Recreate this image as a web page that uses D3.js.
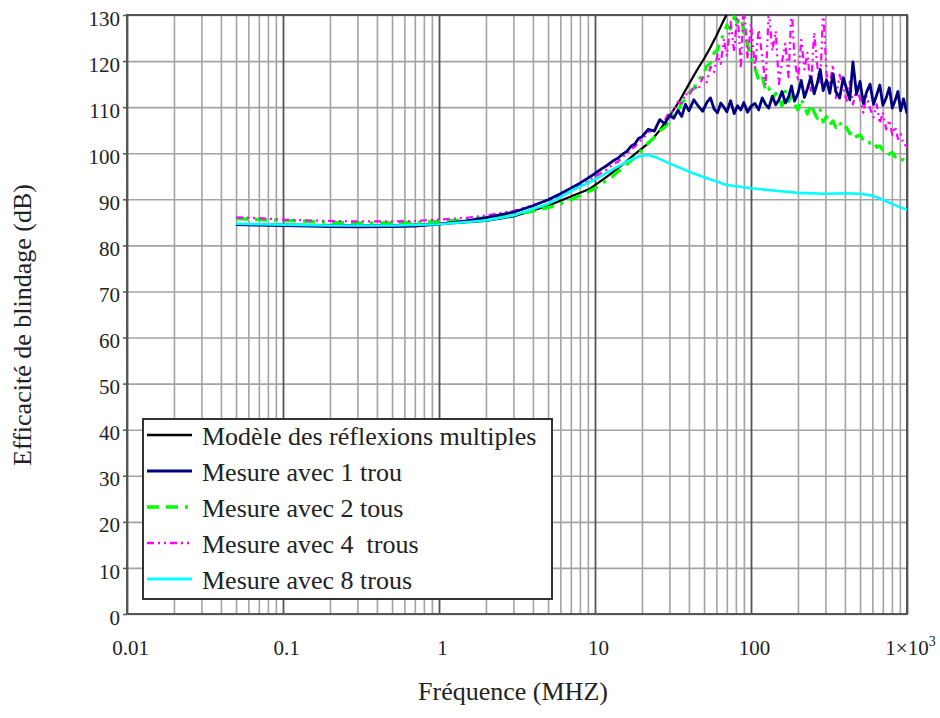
<!DOCTYPE html>
<html>
<head>
<meta charset="utf-8">
<script src="https://cdn.jsdelivr.net/npm/d3@7"></script>
<style>
  body { margin: 0; background: #fff; }
  svg text { font-family: "Liberation Serif", "DejaVu Serif", serif !important; fill: #222; }
</style>
</head>
<body>
<div class="canvas"></div>
<script>
// data (frequency in MHz, SE in dB)
const seriesNames = ['Modèle des réflexions multiples', 'Mesure avec 1 trou', 'Mesure avec 2 tous', 'Mesure avec 4  trous', 'Mesure avec 8 trous']
const xTicks = [0.01, 0.1, 1, 10, 100, 1000]
const yTicks = [0, 10, 20, 30, 40, 50, 60, 70, 80, 90, 100, 110, 120, 130]

const modelFreq = [0.05, 0.1, 0.2, 0.5, 1, 2, 3, 5, 7, 9.3, 12, 15, 18, 22.5, 26, 30, 35, 40, 45, 50, 55, 60, 65, 70, 75]
const modelSE = [84.6, 84.5, 84.4, 84.4, 84.6, 85.3, 86.3, 88.6, 90.6, 92.3, 95.0, 97.5, 99.8, 102.4, 105, 108, 111.5, 115, 118, 120.5, 123, 125.5, 128, 130.2, 132.5]

const measFreq = [
  0.05, 0.07, 0.1, 0.15, 0.2, 0.3, 0.5, 0.7, 1, 1.5, 2, 3, 4, 5, 6, 7, 8, 9, 10,
  11, 12, 13, 14, 15, 16, 17, 18, 19, 20, 22, 24, 26, 28, 30,
  32, 34, 36, 38, 40, 43, 46, 49, 52, 55, 58, 61, 64, 67, 70, 74, 78, 82, 86, 90, 95, 100,
  106, 112, 118, 124, 130, 137, 144, 151, 158, 166, 174, 182, 190, 200, 210, 220, 230, 242, 254, 266, 278, 290, 305, 320,
  335, 350, 370, 390, 410, 430, 450, 475, 500, 525, 550, 580, 610, 640, 670, 700, 735, 770, 805, 840, 875, 910, 950, 1000
]
const trou1 = [
  84.5, 84.4, 84.3, 84.2, 84.1, 84.0, 84.1, 84.2, 84.6, 85.3, 86.0, 87.2, 88.6, 89.9, 91.2, 92.4, 93.5, 94.6, 95.6,
  96.6, 97.4, 98.3, 98.9, 99.8, 100.4, 101.5, 102.0, 103.2, 103.6, 105.2, 104.8, 107.3, 106.4, 108.2,
  107.6, 109.3, 108.0, 110.6, 109.2, 111.6, 110.2, 109.1, 111.0, 112.0, 109.6, 108.8, 110.9, 110.0, 109.0, 111.4, 108.6, 110.3, 109.4, 111.0, 108.9, 110.2,
  110.8, 109.4, 112.0, 110.6, 109.8, 112.4, 110.5, 111.6, 113.4, 110.9, 112.2, 114.6, 111.3, 113.0, 115.8, 112.1, 114.0, 116.6, 112.9, 115.2, 118.2, 113.6, 115.9, 113.0,
  117.2, 113.4, 112.0, 116.4, 114.0, 111.6, 119.8, 112.8, 115.6, 110.8, 113.2, 115.0, 110.6, 112.7, 114.8, 110.4, 112.0, 114.2, 109.8, 111.5, 113.4, 109.2, 111.8, 108.6
]
const trous2 = [
  85.8, 85.6, 85.4, 85.2, 85.0, 84.9, 84.9, 85.0, 85.2, 85.6, 86.0, 86.7, 87.4, 88.2, 89.0, 89.9, 90.8, 91.6, 92.4,
  93.3, 94.3, 95.0, 96.0, 96.7, 97.6, 98.4, 99.0, 100.0, 100.7, 102.3, 103.4, 104.9, 105.6, 107.0,
  108.5, 109.2, 111.0, 111.6, 113.2, 114.0, 116.1, 116.8, 118.9, 119.6, 121.8, 122.4, 124.9, 125.6, 127.8, 127.0, 129.6, 128.4, 130.5, 126.0, 123.5, 120.8,
  118.4, 115.9, 116.8, 113.5, 114.2, 111.6, 113.0, 112.3, 110.2, 113.4, 111.2, 112.5, 110.6, 109.4, 111.8, 110.0, 108.5, 110.6, 108.9, 107.6, 109.4, 106.8, 108.0, 106.2,
  107.0, 105.6, 106.8, 105.1, 105.6, 104.2, 104.9, 103.6, 104.0, 102.8, 103.1, 102.2, 102.6, 101.3, 101.6, 100.7, 100.9, 99.8, 100.2, 99.2, 99.4, 98.5, 98.6, 97.8
]
const trous4 = [
  86.1, 85.9, 85.6, 85.4, 85.3, 85.2, 85.2, 85.3, 85.6, 86.0, 86.5, 87.5, 88.7, 89.7, 90.9, 92.0, 93.0, 93.9, 94.8,
  95.8, 96.5, 97.6, 98.1, 99.2, 99.8, 100.9, 101.4, 102.5, 102.9, 104.6, 105.0, 107.0, 107.2, 109.0,
  109.0, 111.2, 110.8, 113.0, 112.4, 114.6, 113.8, 116.5, 115.4, 118.8, 117.6, 121.5, 119.4, 124.8, 121.2, 128.5, 122.0, 131.5, 118.4, 133.0, 120.5, 128.0,
  118.5, 126.8, 121.0, 114.8, 131.0, 122.2, 126.5, 115.0, 119.8, 123.8, 116.5, 132.0, 120.6, 115.6, 124.6, 118.2, 121.8, 113.6, 126.2, 119.0, 115.0, 131.5, 117.2, 114.6,
  119.2, 112.0, 117.0, 114.4, 111.4, 115.6, 110.6, 113.8, 111.8, 108.8, 112.4, 109.7, 107.8, 110.6, 106.4, 108.9, 105.2, 107.2, 104.0, 105.8, 103.1, 104.2, 101.9, 101.6
]

const cyanFreq = [0.05, 0.07, 0.1, 0.2, 0.5, 1, 2, 3, 5, 7, 10, 13, 16, 19, 22, 25, 30, 40, 50, 70, 100, 150, 200, 300, 400, 500, 600, 700, 800, 900, 1000]
const trous8 = [84.7, 84.6, 84.5, 84.3, 84.3, 84.6, 85.4, 86.5, 89.0, 91.8, 94.3, 96.5, 98.2, 99.3, 99.6, 99.0, 97.8, 96.0, 94.8, 93.1, 92.4, 91.8, 91.4, 91.2, 91.3, 91.2, 90.8, 89.9, 89.0, 88.3, 87.7]

const minorTicks = [0.01, 0.1, 1, 10, 100].flatMap(d => d3.range(2, 10).map(k => k * d))

const margin = {top: 15, right: 33, bottom: 104, left: 127}
const width = 940, height = 718
const graphWidth = width - margin.left - margin.right
const graphHeight = height - margin.top - margin.bottom
const serif = '"Liberation Serif", "DejaVu Serif", serif'

const svg = d3.select('.canvas')
    .append('svg')
    .attr('width', width)
    .attr('height', height)
    .style('font-family', serif)

const x = d3.scaleLog().domain([0.01, 1000]).range([margin.left, margin.left + graphWidth])
const y = d3.scaleLinear().domain([0, 130]).range([margin.top + graphHeight, margin.top])

svg.append('clipPath').attr('id', 'clip')
  .append('rect')
  .attr('x', margin.left).attr('y', margin.top)
  .attr('width', graphWidth).attr('height', graphHeight)

// grid
const gridMinor = svg.append('g')
  .attr('transform', `translate(0, ${margin.top + graphHeight})`)
  .call(d3.axisBottom(x).tickValues(minorTicks).tickSize(-graphHeight).tickFormat(''))
gridMinor.selectAll('line').attr('stroke', '#a3a3a3').attr('stroke-width', 1.6)

const gridH = svg.append('g')
  .attr('transform', `translate(${margin.left}, 0)`)
  .call(d3.axisLeft(y).tickValues(yTicks).tickSize(-graphWidth).tickFormat(''))
gridH.selectAll('line').attr('stroke', '#a3a3a3').attr('stroke-width', 1.6)

const gridMajor = svg.append('g')
  .attr('transform', `translate(0, ${margin.top + graphHeight})`)
  .call(d3.axisBottom(x).tickValues(xTicks).tickSize(-graphHeight).tickFormat(''))
gridMajor.selectAll('line').attr('stroke', '#555').attr('stroke-width', 1.8)
svg.selectAll('.domain').remove()

// frame
svg.append('rect')
  .attr('x', margin.left).attr('y', margin.top)
  .attr('width', graphWidth).attr('height', graphHeight)
  .attr('fill', 'none').attr('stroke', '#555').attr('stroke-width', 2)

// axes labels
const yAxis = svg.append('g')
  .attr('transform', `translate(${margin.left}, 0)`)
  .call(d3.axisLeft(y).tickValues(yTicks).tickSize(4).tickPadding(3))
yAxis.attr('font-family', serif)
yAxis.select('.domain').remove()
yAxis.selectAll('line').attr('stroke', '#555').attr('stroke-width', 1.5)
yAxis.selectAll('text').attr('dy', '0.48em').style('font-size', '21px')

const xAxis = svg.append('g')
  .attr('transform', `translate(0, ${margin.top + graphHeight})`)
  .call(d3.axisBottom(x).tickValues(xTicks).tickSize(0).tickPadding(26)
    .tickFormat(d => d === 1000 ? '1×10' : d3.format('~g')(d)))
xAxis.attr('font-family', serif)
xAxis.select('.domain').remove()
xAxis.selectAll('text').attr('dx', 3).style('font-size', '21px')
xAxis.selectAll('text').filter(d => d === 1000)
  .append('tspan').attr('dy', -9).style('font-size', '14px').text('3')

svg.append('text')
  .attr('x', 513).attr('y', 700)
  .attr('text-anchor', 'middle')
  .style('font-size', '26px')
  .text('Fréquence (MHZ)')

svg.append('text')
  .attr('transform', 'translate(31, 325) rotate(-90)')
  .attr('text-anchor', 'middle')
  .style('font-size', '26px')
  .text('Efficacité de blindage (dB)')

// curves
const styles = [
  {colour: '#000000', width: 2.2, dash: null},
  {colour: '#000080', width: 2.8, dash: null},
  {colour: '#00ff00', width: 3.2, dash: '12,7,12,7,3,7'},
  {colour: '#ff00ff', width: 2.2, dash: '7,4,2,4,2,4'},
  {colour: '#00ffff', width: 2.6, dash: null}
]
const curves = [
  modelFreq.map((f, i) => [f, modelSE[i]]),
  measFreq.map((f, i) => [f, trou1[i]]),
  measFreq.map((f, i) => [f, trous2[i]]),
  measFreq.map((f, i) => [f, trous4[i]]),
  cyanFreq.map((f, i) => [f, trous8[i]])
]

const line = d3.line()
  .x(d => x(d[0]))
  .y(d => y(d[1]))

const plot = svg.append('g').attr('clip-path', 'url(#clip)')
const drawOrder = [0, 2, 3, 1, 4]
drawOrder.forEach(i => {
  plot.append('path')
    .datum(curves[i])
    .attr('fill', 'none')
    .attr('stroke', styles[i].colour)
    .attr('stroke-width', styles[i].width)
    .attr('stroke-dasharray', styles[i].dash)
    .attr('stroke-linejoin', 'round')
    .attr('d', line)
})

// legend
const legendGroup = svg.append('g').attr('transform', 'translate(143, 419)')
legendGroup.append('rect')
  .attr('width', 409).attr('height', 180)
  .attr('fill', '#fff').attr('stroke', '#333').attr('stroke-width', 2)

const items = legendGroup.selectAll('g.item')
  .data(seriesNames)
  .enter()
  .append('g')
  .attr('transform', (d, i) => `translate(0, ${16 + i * 36})`)

items.append('line')
  .attr('x1', 4).attr('x2', 49)
  .attr('stroke', (d, i) => styles[i].colour)
  .attr('stroke-width', (d, i) => styles[i].width + 0.4)
  .attr('stroke-dasharray', (d, i) => styles[i].dash)

items.append('text')
  .attr('x', 59).attr('y', 10)
  .style('font-size', '26px')
  .style('white-space', 'pre')
  .text(d => d)
</script>
</body>
</html>
